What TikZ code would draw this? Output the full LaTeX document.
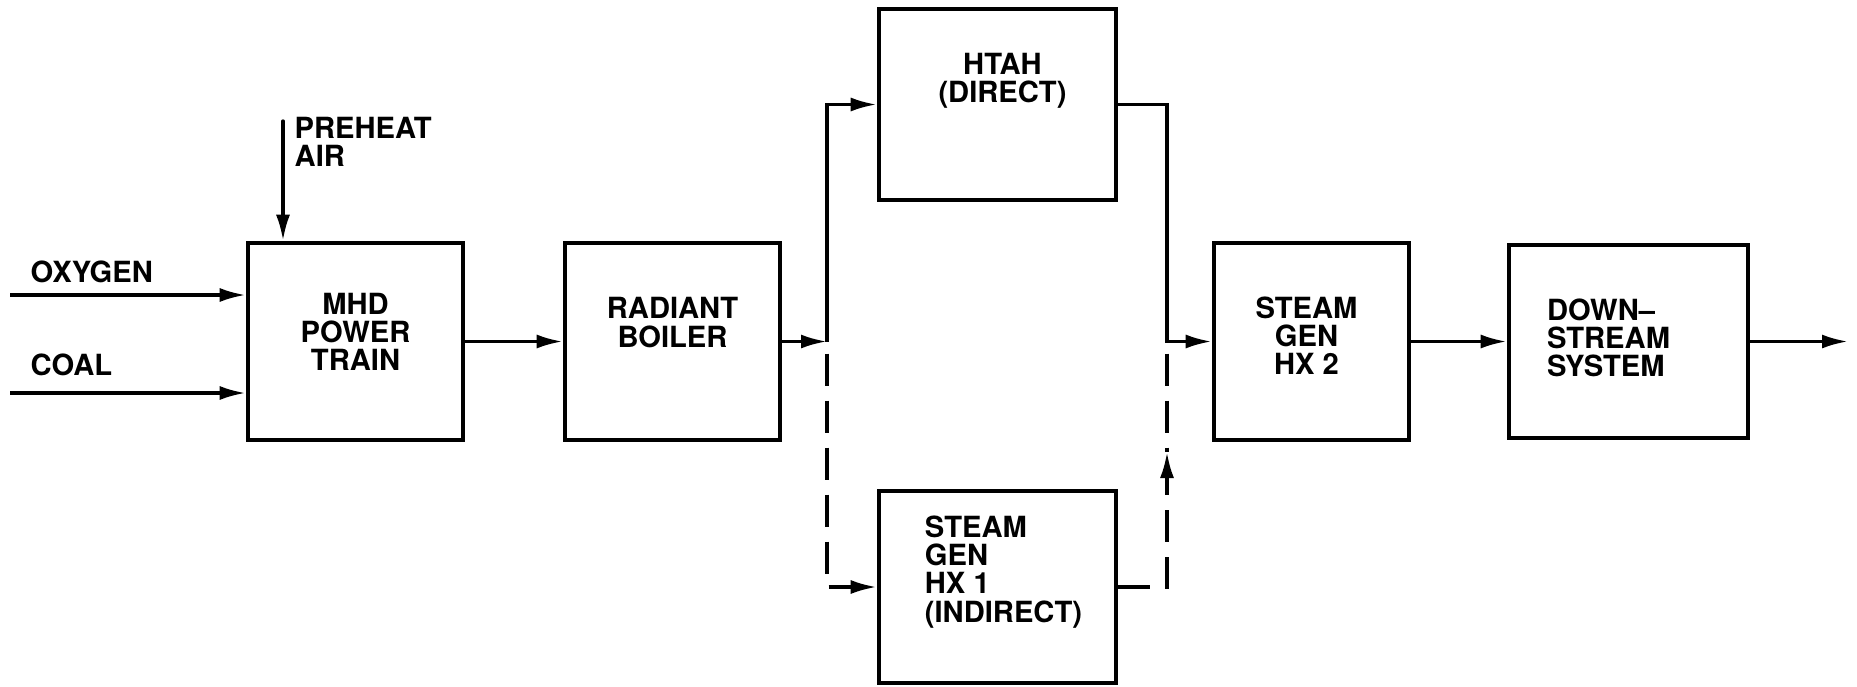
\documentclass[tikz,border=0pt]{standalone}
\usepackage{fontspec}
\setmainfont{TeX Gyre Heros}
\usetikzlibrary{positioning,arrows.meta,calc}

\begin{document}
\begin{tikzpicture}[
  x=.1mm,y=-.1mm,>={Latex[length=2.6mm,width=1.4mm]},
  font=\fontsize{8.3}{8}\selectfont\bfseries,
  unit/.style={draw=black,line width=1.3pt,inner sep=0pt},
  boxtext/.style={align=center,inner sep=0pt},
  flow/.style={black,line width=.95pt},
  dashflow/.style={black,line width=.95pt,dash pattern=on 3.2mm off 1.5mm},
  tag/.style={anchor=west,align=left,inner sep=0pt}
]
\useasboundingbox (0,0) rectangle (1857,686);
\node[unit,minimum width=21.5mm,minimum height=19.7mm,
  label={[boxtext,yshift=1mm]center:MHD\\POWER\\TRAIN}] (mhd) at (355.5,341.5) {};
\node[unit,minimum width=21.5mm,minimum height=19.7mm,
  label={[boxtext,yshift=1.9mm]center:RADIANT\\BOILER}] (rb) at (672.5,341.5) {};
\node[unit,minimum width=23.7mm,minimum height=19.1mm,
  label={[boxtext,xshift=.5mm,yshift=2.4mm]center:HTAH\\(DIRECT)}] (htah) at (997.5,104.5) {};
\node[unit,minimum width=23.7mm,minimum height=19.2mm,
  label={[boxtext,align=left,xshift=.6mm,yshift=1.5mm]center:STEAM\\GEN\\HX 1\\(INDIRECT)}] (hx1) at (997.5,587) {};
\node[unit,minimum width=19.5mm,minimum height=19.7mm,
  label={[boxtext,xshift=-.5mm,yshift=.6mm]center:STEAM\\GEN\\HX 2}] (hx2) at (1311.5,341.5) {};
\node[unit,minimum width=23.9mm,minimum height=19.3mm,
  label={[boxtext,align=left,xshift=-2mm,yshift=.4mm]center:DOWN--\\STREAM\\SYSTEM}] (ds) at (1628.5,341.5) {};
\node[tag] (oxtag) at (30,272) {OXYGEN};
\node[tag] (coaltag) at (30,365) {COAL};
\node[tag] (airtag) at (294,142) {PREHEAT\\AIR};
\coordinate (oxin) at (10,295);
\coordinate (coalin) at (10,393);
\coordinate (airin) at (283,121);
\coordinate (split) at (827,341.5);
\coordinate (merge) at (1167,341.5);
\coordinate (riser) at (1167,452);
\coordinate (outlet) at (1848,341.5);
\draw[flow,->] (oxin) -- (oxin -| mhd.west);
\draw[flow,->] (coalin) -- (coalin -| mhd.west);
\draw[flow,->,line cap=round] (airin) -- (airin |- mhd.north);
\draw[flow,->] (mhd) -- (rb);
\draw[flow,->] (rb) -- (split);
\draw[flow,->] (split) |- (htah.west);
\draw[dashflow,->] ($(split)+(0,12)$) |- (hx1.west);
\draw[flow,->] (htah.east) -| (merge) -- (hx2.west);
\draw[dashflow,->] (hx1.east) -| (riser);
\draw[dashflow] ($(merge)+(0,12)$) -- (riser);
\draw[flow,->] (hx2) -- (ds);
\draw[flow,->] (ds) -- (outlet);
\end{tikzpicture}
\end{document}
